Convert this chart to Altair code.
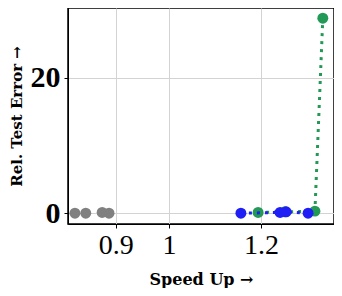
import altair as alt
import pandas as pd

gray_x = [0.830, 0.848, 0.876, 0.888]
gray_y = [0.0, 0.0, 0.1, 0.0]
green_x = [1.193, 1.258, 1.335, 1.356]
green_y = [0.1, 0.2, 0.3, 28.8]
blue_x = [1.153, 1.246, 1.261, 1.317]
blue_y = [0.0, 0.1, 0.2, 0.0]

x_ticks = [0.9, 1, 1.2]
y_ticks = [0, 20]

def df(xs, ys, name):
    return pd.DataFrame({"speed": xs, "err": ys, "s": name})

FONT = "Liberation Serif"
TFONT = "DejaVu Serif"
xs = alt.Scale(type="log", domain=[0.8187, 1.3864], nice=False)
ys = alt.Scale(domain=[-1.6, 30.3], nice=False, zero=False)
X = alt.X("speed:Q", scale=xs, axis=alt.Axis(values=x_ticks, format="~g", title="Speed Up →",
                                               labelFontSize=28, labelFont=FONT, titleFont=TFONT,
                                               titleFontSize=16, titleFontWeight="bold", titlePadding=12,
                                               labelPadding=3, tickSize=4, labelFlush=False))
Y = alt.Y("err:Q", scale=ys, axis=alt.Axis(values=y_ticks, title="Rel. Test Error →",
                                            labelFontSize=30, labelFont=FONT, labelFontWeight="bold",
                                            titleFont=TFONT, titleFontSize=15, titleFontWeight="bold",
                                            titlePadding=6, labelPadding=4, tickSize=4))

def layer(d, color, line=True):
    base = alt.Chart(d)
    pts = base.mark_circle(size=120, opacity=1, color=color).encode(x=X, y=Y)
    if line:
        ln = base.mark_line(color=color, strokeWidth=3, strokeDash=[3, 5]).encode(x=X, y=Y, order="speed:Q")
        return [ln, pts]
    return [pts]

layers = []
layers += layer(df(gray_x, gray_y, "gray"), "#808080", line=False)
layers += layer(df(green_x, green_y, "green"), "#229a55")
layers += layer(df(blue_x, blue_y, "blue"), "#1f1ff5")

chart = alt.layer(*layers).properties(
    width=266, height=216,
    autosize=alt.AutoSizeParams(type="none"),
    padding={"left": 60, "top": 0, "right": 0, "bottom": 64},
).configure_view(stroke="black", strokeWidth=1.5).configure_axis(
    domainColor="black", tickColor="black", gridColor="#d3d3d3", labelColor="black", titleColor="black"
)

chart.save("out.html", embed_options={"renderer": "svg", "actions": False})
